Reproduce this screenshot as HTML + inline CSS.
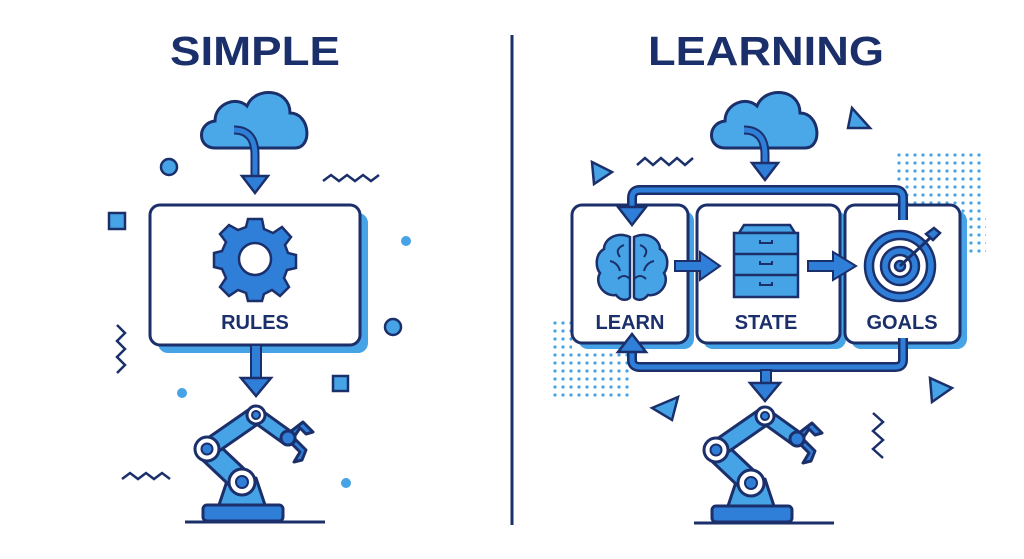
<!DOCTYPE html>
<html><head><meta charset="utf-8"><style>
html,body{margin:0;padding:0;background:#fff;}
svg{display:block;}
text{font-family:"Liberation Sans",sans-serif;font-weight:bold;fill:#1b2f6b;}
</style></head><body>
<svg width="1024" height="559" viewBox="0 0 1024 559" xmlns="http://www.w3.org/2000/svg">
<defs>
<g id="cloud">
  <path d="M-40,30 C-58,30 -58,5 -40,3 C-40,-15 -18,-22 -8,-12 C0,-32 35,-30 35,-5 C55,-5 58,30 40,30 Z" fill="#4aa8e8" stroke="#1b2f6b" stroke-width="3"/>
</g>
<g id="robot" stroke="#1b2f6b" stroke-width="3" stroke-linejoin="round">
  <path d="M219,505 L228,478 L256,478 L265,505 Z" fill="#45a3e6"/>
  <rect x="203" y="505" width="80" height="16" rx="4" fill="#2f7fd8"/>
  <line x1="185" y1="522" x2="325" y2="522"/>
  <line x1="207" y1="449" x2="242" y2="482" stroke-width="25" stroke-linecap="round"/>
  <line x1="207" y1="449" x2="242" y2="482" stroke="#45a3e6" stroke-width="19" stroke-linecap="round"/>
  <line x1="207" y1="449" x2="256" y2="415" stroke-width="20" stroke-linecap="round"/>
  <line x1="207" y1="449" x2="256" y2="415" stroke="#45a3e6" stroke-width="14" stroke-linecap="round"/>
  <line x1="256" y1="415" x2="288" y2="438" stroke-width="17" stroke-linecap="round"/>
  <line x1="256" y1="415" x2="288" y2="438" stroke="#45a3e6" stroke-width="11" stroke-linecap="round"/>
  <path d="M290,432 L303,422 L313,432 L306,434 L300,428 L294,437 Z" fill="#2f7fd8"/>
  <path d="M292,444 L300,452 L294,462 L302,460 L306,450 L296,440 Z" fill="#2f7fd8"/>
  <circle cx="288" cy="438" r="7" fill="#2f7fd8"/>
  <circle cx="242" cy="482" r="13" fill="#fff"/><circle cx="242" cy="482" r="6" fill="#2f7fd8" stroke-width="2"/>
  <circle cx="207" cy="449" r="12" fill="#fff"/><circle cx="207" cy="449" r="5.5" fill="#2f7fd8" stroke-width="2"/>
  <circle cx="256" cy="415" r="9" fill="#fff"/><circle cx="256" cy="415" r="4" fill="#2f7fd8" stroke-width="2"/>
</g>
</defs>

<text x="170" y="65" font-size="41" textLength="170" lengthAdjust="spacingAndGlyphs">SIMPLE</text>
<text x="648" y="65" font-size="41" textLength="236" lengthAdjust="spacingAndGlyphs">LEARNING</text>
<line x1="512" y1="35" x2="512" y2="525" stroke="#1b2f6b" stroke-width="3"/>

<!-- LEFT -->
<use href="#cloud" transform="translate(255,118)"/>
<path d="M234,130 Q255,130 255,155 L255,178" fill="none" stroke="#1b2f6b" stroke-width="9"/>
<path d="M234,130 Q255,130 255,155 L255,178" fill="none" stroke="#2f7fd8" stroke-width="5"/>
<path d="M242,176 L268,176 L255,193 Z" fill="#2f7fd8" stroke="#1b2f6b" stroke-width="2.5"/>
<rect x="158" y="213" width="210" height="140" rx="10" fill="#45a3e6"/>
<rect x="150" y="205" width="210" height="140" rx="10" fill="#fff" stroke="#1b2f6b" stroke-width="3"/>
<g transform="translate(255,259)">
  <g fill="#2f7fd8" stroke="#1b2f6b" stroke-width="2.5">
    <path d="M-7,-40 L7,-40 L9,-30 L18,-26 L27,-32 L36,-22 L30,-14 L33,-6 L41,-4 L41,9 L32,11 L29,19 L34,28 L25,37 L17,31 L9,35 L7,42 L-7,42 L-9,34 L-17,31 L-26,37 L-35,28 L-29,19 L-33,10 L-41,8 L-41,-6 L-33,-8 L-29,-17 L-35,-25 L-26,-34 L-17,-29 L-9,-32 Z"/>
  </g>
  <circle r="16" fill="#fff" stroke="#1b2f6b" stroke-width="2.5"/>
</g>
<text x="255" y="329" font-size="20" text-anchor="middle">RULES</text>
<rect x="251" y="345" width="10" height="36" fill="#2f7fd8" stroke="#1b2f6b" stroke-width="2"/>
<path d="M241,378 L271,378 L256,396 Z" fill="#2f7fd8" stroke="#1b2f6b" stroke-width="2.5"/>
<use href="#robot"/>

<!-- left decorations -->
<circle cx="169" cy="167" r="8" fill="#45a3e6" stroke="#1b2f6b" stroke-width="2.5"/>
<rect x="109" y="213" width="16" height="16" fill="#45a3e6" stroke="#1b2f6b" stroke-width="2.5"/>
<path d="M323,181 l8,-6 l8,6 l8,-6 l8,6 l8,-6 l8,6 l8,-6" fill="none" stroke="#1b2f6b" stroke-width="2.5"/>
<circle cx="406" cy="241" r="5" fill="#45a3e6"/>
<circle cx="393" cy="327" r="8" fill="#45a3e6" stroke="#1b2f6b" stroke-width="2.5"/>
<path d="M117,325 l8,8 l-8,8 l8,8 l-8,8 l8,8 l-8,8" fill="none" stroke="#1b2f6b" stroke-width="2.5"/>
<circle cx="182" cy="393" r="5" fill="#45a3e6"/>
<rect x="333" y="376" width="15" height="15" fill="#45a3e6" stroke="#1b2f6b" stroke-width="2.5"/>
<path d="M122,479 l8,-6 l8,6 l8,-6 l8,6 l8,-6 l8,6" fill="none" stroke="#1b2f6b" stroke-width="2.5"/>
<circle cx="346" cy="483" r="5" fill="#45a3e6"/>

<!-- RIGHT -->
<use href="#cloud" transform="translate(765,118)"/>
<path d="M744,130 Q765,130 765,155 L765,165" fill="none" stroke="#1b2f6b" stroke-width="9"/>
<path d="M744,130 Q765,130 765,155 L765,165" fill="none" stroke="#2f7fd8" stroke-width="5"/>
<path d="M752,163 L778,163 L765,180 Z" fill="#2f7fd8" stroke="#1b2f6b" stroke-width="2.5"/>

<g fill="#45a3e6">
<pattern id="dots" width="8" height="8" patternUnits="userSpaceOnUse"><circle cx="3" cy="3" r="1.6"/></pattern>
</g>
<rect x="895" y="153" width="90" height="60" fill="url(#dots)"/>
<rect x="964" y="213" width="22" height="42" fill="url(#dots)"/>
<rect x="550" y="318" width="22" height="80" fill="url(#dots)"/>
<rect x="572" y="350" width="60" height="48" fill="url(#dots)"/>

<rect x="578" y="211" width="116" height="138" rx="10" fill="#45a3e6"/>
<rect x="703" y="211" width="143" height="138" rx="10" fill="#45a3e6"/>
<rect x="851" y="211" width="116" height="138" rx="10" fill="#45a3e6"/>
<rect x="572" y="205" width="116" height="138" rx="10" fill="#fff" stroke="#1b2f6b" stroke-width="3"/>
<rect x="697" y="205" width="143" height="138" rx="10" fill="#fff" stroke="#1b2f6b" stroke-width="3"/>
<rect x="845" y="205" width="115" height="138" rx="10" fill="#fff" stroke="#1b2f6b" stroke-width="3"/>

<!-- loops -->
<g fill="none" stroke-linejoin="round">
<path d="M903,220 L903,198 Q903,190 895,190 L640,190 Q632,190 632,198 L632,210" stroke="#1b2f6b" stroke-width="10"/>
<path d="M903,220 L903,198 Q903,190 895,190 L640,190 Q632,190 632,198 L632,210" stroke="#2f7fd8" stroke-width="5"/>
<path d="M903,338 L903,360 Q903,367 895,367 L640,367 Q632,367 632,360 L632,350" stroke="#1b2f6b" stroke-width="10"/>
<path d="M903,338 L903,360 Q903,367 895,367 L640,367 Q632,367 632,360 L632,350" stroke="#2f7fd8" stroke-width="5"/>
</g>
<path d="M618,207 L646,207 L632,225 Z" fill="#2f7fd8" stroke="#1b2f6b" stroke-width="2.5"/>
<path d="M618,352 L646,352 L632,334 Z" fill="#2f7fd8" stroke="#1b2f6b" stroke-width="2.5"/>
<rect x="761" y="370" width="10" height="15" fill="#2f7fd8" stroke="#1b2f6b" stroke-width="2"/>
<path d="M750,383 L780,383 L765,401 Z" fill="#2f7fd8" stroke="#1b2f6b" stroke-width="2.5"/>

<!-- brain -->
<g transform="translate(632,267)" stroke="#1b2f6b" stroke-width="2.5" fill="#45a3e6">
  <path d="M-2,-30 C-15,-36 -28,-28 -28,-18 C-38,-12 -36,2 -32,6 C-38,16 -28,30 -16,28 C-10,36 -2,32 -2,30 Z"/>
  <path d="M2,-30 C15,-36 28,-28 28,-18 C38,-12 36,2 32,6 C38,16 28,30 16,28 C10,36 2,32 2,30 Z"/>
  <path d="M-8,-22 q-10,4 -4,12 M-22,-6 q8,2 10,10 M-14,12 q6,-6 12,0 M8,-22 q10,4 4,12 M22,-6 q-8,2 -10,10 M14,12 q-6,-6 -12,0" fill="none" stroke-width="2"/>
</g>
<path d="M675,261 L700,261 L700,252 L720,266 L700,280 L700,271 L675,271 Z" fill="#2f7fd8" stroke="#1b2f6b" stroke-width="2"/>
<path d="M808,261 L833,261 L833,252 L856,266 L833,280 L833,271 L808,271 Z" fill="#2f7fd8" stroke="#1b2f6b" stroke-width="2"/>
<g stroke="#1b2f6b" stroke-width="2.5">
  <path d="M739,233 L744,225 L790,225 L795,233 Z" fill="#45a3e6"/>
  <rect x="734" y="233" width="64" height="64" fill="#45a3e6"/>
  <line x1="734" y1="254" x2="798" y2="254"/><line x1="734" y1="275" x2="798" y2="275"/>
  <path d="M760,240 v3 h12 v-3 M760,261 v3 h12 v-3 M760,282 v3 h12 v-3" fill="none" stroke-width="2"/>
</g>
<g transform="translate(900,266)" stroke="#1b2f6b" stroke-width="2.5">
  <circle r="35" fill="#2f7fd8"/><circle r="27" fill="#fff"/><circle r="19" fill="#2f7fd8"/><circle r="11" fill="#fff"/><circle r="5" fill="#2f7fd8"/>
  <line x1="0" y1="0" x2="30" y2="-28" stroke-width="3"/>
  <path d="M26,-32 L34,-38 L40,-33 L33,-26 Z" fill="#2f7fd8"/>
</g>
<text x="630" y="329" font-size="20" text-anchor="middle">LEARN</text>
<text x="766" y="329" font-size="20" text-anchor="middle">STATE</text>
<text x="902" y="329" font-size="20" text-anchor="middle">GOALS</text>

<use href="#robot" transform="translate(509,1)"/>

<path d="M852,108 L870,128 L848,128 Z" fill="#45a3e6" stroke="#1b2f6b" stroke-width="2.5"/>
<path d="M592,162 L612,172 L594,184 Z" fill="#45a3e6" stroke="#1b2f6b" stroke-width="2.5"/>
<path d="M637,165 l8,-7 l8,7 l8,-7 l8,7 l8,-7 l8,7 l8,-7" fill="none" stroke="#1b2f6b" stroke-width="2.5"/>
<path d="M652,408 L678,397 L672,420 Z" fill="#45a3e6" stroke="#1b2f6b" stroke-width="2.5"/>
<path d="M930,378 L952,388 L932,402 Z" fill="#45a3e6" stroke="#1b2f6b" stroke-width="2.5"/>
<path d="M873,413 l10,9 l-10,9 l10,9 l-10,9 l10,9" fill="none" stroke="#1b2f6b" stroke-width="2.5"/>
</svg>
</body></html>
